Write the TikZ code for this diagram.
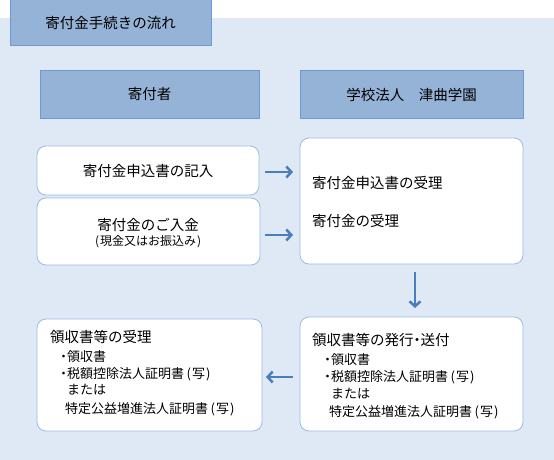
\documentclass[tikz,border=0pt]{standalone}
\usepackage{fontspec}
\setmainfont{Noto Sans CJK JP}
\usetikzlibrary{arrows.meta}
\definecolor{bgblue}{HTML}{DFE8F5}
\definecolor{hdrfill}{HTML}{95B3D7}
\definecolor{hdrline}{HTML}{6C9AD6}
\definecolor{boxline}{HTML}{9BBCE6}
\definecolor{arrowblue}{HTML}{4A7EBB}
\newcommand{\nd}{\makebox[7pt][c]{・}}
\newcommand{\lpar}{\kern2.5pt(\kern1pt}
\newcommand{\rpar}{\kern1pt)\kern2pt}
\tikzset{
  hdr/.style={draw=hdrline, fill=hdrfill, line width=1pt, inner sep=0pt, outer sep=0pt,
    font=\fontsize{14.5}{17}\selectfont, text=black},
  rbox/.style={draw=boxline, fill=white, line width=0.8pt, rounded corners=9pt,
    inner sep=0pt, outer sep=0pt, font=\fontsize{14.5}{17}\selectfont},
  big/.style={inner sep=0pt, font=\fontsize{14.5}{17}\selectfont, anchor=base west},
  sub/.style={inner sep=0pt, font=\fontsize{13}{16}\selectfont, anchor=base west},
  arr/.style={draw=arrowblue, line width=2.5pt, -{Straight Barb[length=5pt,width=11pt]}}
}
\begin{document}
\begin{tikzpicture}[x=1pt,y=-1pt]
\useasboundingbox (0,0) rectangle (554,460);
\fill[bgblue] (0,18) rectangle (554,460);
% headers
\node[hdr, minimum width=201pt, minimum height=46pt] (title) at (110.5,23) {寄付金手続きの流れ};
\node[hdr, minimum width=219pt, minimum height=47pt] (donor) at (149.5,94.5) {寄付者};
\node[hdr, minimum width=223pt, minimum height=47pt] (school) at (411.5,94.5) {学校法人　津曲学園};
% boxes
\node[rbox, minimum width=222pt, minimum height=49pt] (box1) at (148,170.5) {寄付金申込書の記入};
\node[rbox, minimum width=223pt, minimum height=67pt] (box2) at (148.5,231.5) {};
\node[rbox, minimum width=223pt, minimum height=126pt] (rtop) at (411.5,201) {};
\node[rbox, minimum width=223pt, minimum height=114pt] (rbot) at (411.5,374) {};
\node[rbox, minimum width=225pt, minimum height=112pt] (lbot) at (149.5,375) {};
% box2 text
\node[inner sep=0pt, font=\fontsize{14.5}{17}\selectfont, anchor=base] (t2a) at (148,230.5) {寄付金のご入金};
\node[inner sep=0pt, font=\fontsize{12}{14}\selectfont, anchor=base] (t2b) at (148,245.5) {\lpar 現金又はお振込み\rpar};
% right top text
\node[big] (rt1) at (312,188.5) {寄付金申込書の受理};
\node[big] (rt2) at (312,226.5) {寄付金の受理};
% right bottom text
\node[big] (rb1) at (312,345.5) {領収書等の発行\nd 送付};
\node[sub] (rb2) at (324,364) {\nd 領収書};
\node[sub] (rb3) at (324,381) {\nd 税額控除法人証明書\lpar 写\rpar};
\node[sub] (rb4) at (331,398) {または};
\node[sub] (rb5) at (329,416) {特定公益増進法人証明書\lpar 写\rpar};
% left bottom text
\node[big] (lb1) at (50,342) {領収書等の受理};
\node[sub] (lb2) at (60,361) {\nd 領収書};
\node[sub] (lb3) at (60,378) {\nd 税額控除法人証明書\lpar 写\rpar};
\node[sub] (lb4) at (67,394.5) {または};
\node[sub] (lb5) at (65,413) {特定公益増進法人証明書\lpar 写\rpar};
% arrows
\draw[arr, shorten <=6pt, shorten >=7pt] ([yshift=-1.5pt]box1.east) -- ([yshift=-1.5pt]box1.east -| rtop.west);
\draw[arr, shorten <=5pt, shorten >=7pt] ([yshift=-3.5pt]box2.east) -- ([yshift=-3.5pt]box2.east -| rtop.west);
\draw[arr, shorten <=8pt, shorten >=9pt] ([xshift=3.5pt]rtop.south) -- ([xshift=3.5pt]rtop.south |- rbot.north);
\draw[arr, shorten <=7pt, shorten >=4pt] ([yshift=-3pt]rbot.west) -- ([yshift=-3pt]rbot.west -| lbot.east);
\end{tikzpicture}
\end{document}
